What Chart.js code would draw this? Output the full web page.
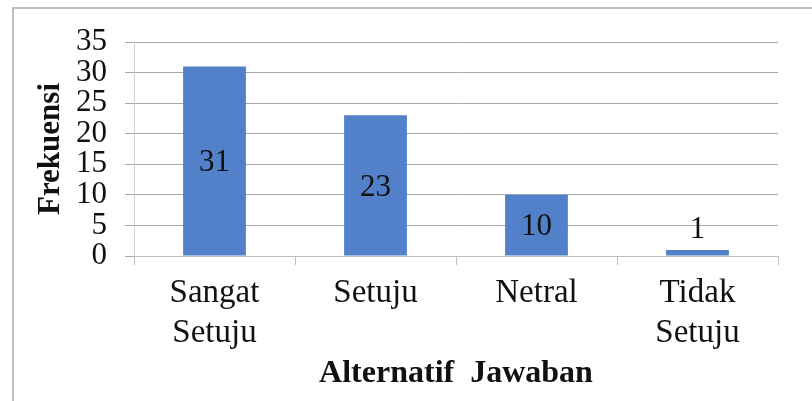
<!DOCTYPE html>
<html>
<head>
<meta charset="utf-8">
<script src="https://cdn.jsdelivr.net/npm/chart.js@4"></script>
<style>
  body { margin: 0; background: #fff; }
  #wrap { position: relative; width: 812px; height: 401px; overflow: hidden; }
  #frame { position: absolute; left: 12px; top: 7px; width: 900px; height: 500px; border: 2px solid #c0c0c0; }
  canvas { position: absolute; left: 0; top: 0; }
</style>
</head>
<body>
<div id="wrap">
  <div id="frame"></div>
  <canvas id="chart" width="812" height="401"></canvas>
</div>
<script>
var categories = [["Sangat", "Setuju"], "Setuju", "Netral", ["Tidak", "Setuju"]];
var frekuensi = [31, 23, 10, 1];
var yTicks = [0, 5, 10, 15, 20, 25, 30, 35];

var serif = "'Liberation Serif', 'Times New Roman', serif";

// value labels: middle of bar, above it when the bar is too short
var barLabels = {
  id: "barLabels",
  afterDatasetsDraw: function (chart) {
    var ctx = chart.ctx;
    var meta = chart.getDatasetMeta(0);
    ctx.save();
    ctx.font = "31px " + serif;
    ctx.fillStyle = "#111";
    ctx.textAlign = "center";
    ctx.textBaseline = "middle";
    meta.data.forEach(function (bar, i) {
      var h = bar.base - bar.y;
      var y = h > 34 ? (bar.y + bar.base) / 2 + 2 : bar.y - 20;
      ctx.fillText(String(frekuensi[i]), bar.x, y);
    });
    ctx.restore();
  },
};

var config = {
  type: "bar",
  data: {
    labels: categories,
    datasets: [
      {
        data: frekuensi,
        backgroundColor: "#5381C9",
        borderWidth: 0,
        barPercentage: 0.39,
        categoryPercentage: 1,
      },
    ],
  },
  options: {
    responsive: false,
    animation: false,
    events: [],
    layout: {
      padding: { left: 0, top: 42, right: 34, bottom: 0 },
    },
    plugins: {
      legend: { display: false },
      tooltip: { enabled: false },
    },
    scales: {
      y: {
        min: 0,
        max: 35,
        afterBuildTicks: function (scale) {
          scale.ticks = yTicks.map(function (v) { return { value: v }; });
        },
        afterFit: function (scale) {
          scale.width = 134;
        },
        grid: {
          color: "#a8a8a8",
          lineWidth: 1,
          tickLength: 9,
        },
        border: { color: "#d0d0d0", width: 1 },
        ticks: {
          color: "#111",
          padding: 18,
          autoSkip: false,
          font: { family: serif, size: 31, lineHeight: 0.9 },
        },
        title: {
          display: true,
          text: "Frekuensi",
          color: "#111",
          padding: { top: 32, bottom: 0 },
          font: { family: serif, size: 31, weight: "bold" },
        },
      },
      x: {
        afterFit: function (scale) {
          scale.height = 145;
        },
        grid: {
          offset: true,
          drawOnChartArea: false,
          color: "#c0c0c0",
          tickLength: 9,
        },
        border: { color: "#c0c0c0", width: 1 },
        ticks: {
          color: "#111",
          padding: 9,
          maxRotation: 0,
          font: { family: serif, size: 33, lineHeight: 1.2 },
        },
        title: {
          display: true,
          text: "Alternatif  Jawaban",
          color: "#111",
          padding: { top: 0, bottom: 8 },
          font: { family: serif, size: 32, weight: "bold" },
        },
      },
    },
  },
  plugins: [barLabels],
};

window.onload = function () {
  var ctx = document.getElementById("chart").getContext("2d");
  window.myChart = new Chart(ctx, config);
};
</script>
</body>
</html>
